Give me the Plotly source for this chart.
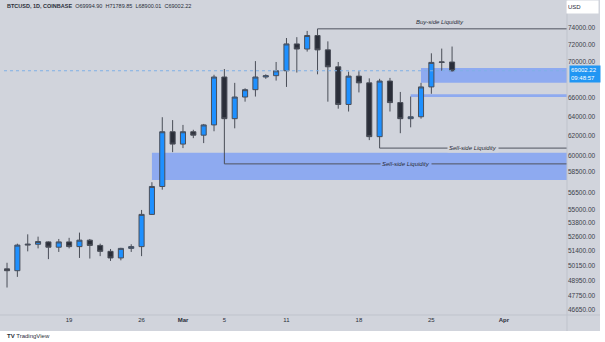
import numpy as np
import pandas as pd
import plotly.graph_objects as go

# Daily BTCUSD candles, Coinbase
dates = pd.date_range("2024-02-13", "2024-03-27", freq="D")
opens = [49900, 49750, 51880, 51950, 52150, 51700, 52150, 51750, 52300, 51850,
         51350, 50800, 51600, 51750, 54550, 57100, 62450, 61200, 62450, 62100,
         63150, 68300, 63800, 66100, 66900, 68300, 68450, 69000, 72100, 71500,
         73100, 71400, 69450, 65300, 68400, 67650, 61950, 67850, 65500, 63800,
         64000, 67200, 69950, 69994.90]
highs = [50400, 52000, 52800, 52600, 52200, 52400, 52500, 52950, 52400, 52000,
         51550, 51650, 51950, 54950, 57500, 63950, 63650, 63150, 62650, 63250,
         68550, 69200, 67650, 67050, 70100, 68600, 70000, 72800, 72900, 73650,
         73900, 72400, 70000, 68900, 68950, 68150, 68100, 68200, 66650, 66150,
         67650, 71000, 71550, 71789.85]
lows = [48400, 49250, 51350, 51600, 50700, 51300, 51600, 50800, 50750, 50950,
        50550, 50600, 51300, 50950, 54500, 56800, 60400, 60800, 61800, 61300,
        62500, 59250, 62800, 65600, 66150, 68100, 67900, 67200, 68800, 71200,
        68600, 65600, 64850, 64550, 66600, 61600, 60800, 64550, 62300, 62900,
        63800, 66450, 69000, 68900.01]
closes = [49750, 51880, 51950, 52180, 51700, 52150, 51750, 52300, 51850, 51350,
          50800, 51600, 51750, 54550, 57100, 62450, 61200, 62450, 62100, 63150,
          68300, 63800, 66100, 66900, 68300, 68450, 69000, 72100, 71500, 73100,
          71400, 69450, 65300, 68400, 67650, 61950, 67850, 65500, 63800, 64000,
          67200, 69950, 70000, 69002.22]

# Imbalance zones, each running to the right edge
zone_starts = ["2024-02-27", "2024-03-24", "2024-03-23"]
zone_lows = [57700, 67650, 66100]
zone_highs = [60350, 69300, 66400]

# Liquidity levels and where their labels sit
level_starts = ["2024-03-14", "2024-03-20", "2024-03-05"]
level_prices = [73900, 60800, 59250]
level_labels = ["Buy-side Liquidity", "Sell-side Liquidity", "Sell-side Liquidity"]
label_dates = ["2024-03-25 20:00", "2024-03-29 00:00", "2024-03-22 12:00"]

last_price = 69002.22
x_range = ["2024-02-12 17:00", "2024-04-07 02:30"]
y_low, y_high = 46272, 77470

price_ticks = [74000, 72000, 70000, 66000, 64000, 62000, 60000, 58500,
               56500, 55000, 53800, 52600, 51400, 50150, 48950, 47750, 46650]
date_ticks = ["2024-02-19", "2024-02-26", "2024-03-01", "2024-03-05",
              "2024-03-11", "2024-03-18", "2024-03-25", "2024-04-01"]
date_labels = ["19", "26", "<b>Mar</b>", "5", "11", "18", "25", "<b>Apr</b>"]

BG = "#d1d4dc"
TXT = "#2a2e39"
ZONE = "#8eaaf0"
W, H = 605, 342
ML, MR, MT, MB = 4, 38, 0, 27
PW, PH = W - ML - MR, H - MT - MB

fig = go.Figure()

# zones as bars so they sit beneath the candles
right_edge = pd.Timestamp(x_range[1])
z_start = pd.to_datetime(zone_starts)
z_span = right_edge - z_start
fig.add_trace(go.Bar(
    x=z_start + z_span / 2,
    width=[s.total_seconds() * 1000 for s in z_span],
    base=zone_lows,
    y=[h - l for h, l in zip(zone_highs, zone_lows)],
    marker=dict(color=ZONE, line=dict(width=0)),
    hoverinfo="skip", showlegend=False))

fig.add_trace(go.Candlestick(
    x=dates, open=opens, high=highs, low=lows, close=closes,
    increasing=dict(fillcolor="#1e90ff", line=dict(color="#4a4e58", width=1)),
    decreasing=dict(fillcolor="#2a2e39", line=dict(color="#4a4e58", width=1)),
    whiskerwidth=0, showlegend=False))

fig.add_trace(go.Scatter(
    x=x_range, y=[last_price, last_price], mode="lines",
    line=dict(color="#7fb0e6", width=1, dash="dot"),
    hoverinfo="skip", showlegend=False))

for start, price in zip(level_starts, level_prices):
    fig.add_trace(go.Scatter(
        x=[start, x_range[1]], y=[price, price], mode="lines",
        line=dict(color="#50535e", width=1), hoverinfo="skip", showlegend=False))

annotations = []
label_bg = ["rgba(0,0,0,0)", BG, ZONE]
label_shift = [7, 0, 0]
for ldate, price, label, bg, sh in zip(label_dates, level_prices, level_labels,
                                       label_bg, label_shift):
    annotations.append(dict(
        x=ldate, y=np.log10(price), xref="x", yref="y", text=f"<i>{label}</i>",
        showarrow=False, font=dict(size=6, color=TXT, family="Liberation Sans"),
        bgcolor=bg, borderpad=1, yshift=sh))

annotations.append(dict(
    x=1 + 1.5 / PW, y=np.log10(last_price), xref="paper", yref="y",
    xanchor="left", yanchor="middle", yshift=-3, align="left",
    text=f"{last_price:.2f}<br>09:48:57", showarrow=False, width=28,
    bgcolor="#2196f3", borderpad=1,
    font=dict(size=6, color="white", family="Liberation Sans")))

annotations.append(dict(
    x=1 - 1 / PW, y=1, xref="paper", yref="paper", xanchor="left",
    yanchor="top", text="USD", showarrow=False, width=29, height=10,
    align="left", bgcolor="white", borderpad=1,
    font=dict(size=6, color=TXT, family="Liberation Sans")))

annotations.append(dict(
    x=1 / PW, y=1, xref="paper", yref="paper", xanchor="left", yanchor="top",
    yshift=-1, showarrow=False,
    text="<b>BTCUSD, 1D, COINBASE</b>  O69994.90  H71789.85  L68900.01  C69002.22",
    font=dict(size=5.5, color=TXT, family="Liberation Sans")))

annotations.append(dict(
    x=1 / PW, y=-21 / PH, xref="paper", yref="paper", xanchor="left",
    yanchor="middle", showarrow=False, text="<b>TV</b> TradingView",
    font=dict(size=6, color=TXT, family="Liberation Sans")))

shapes = [
    dict(type="rect", xref="paper", yref="paper", x0=-4 / PW, x1=596 / PW,
         y0=-16 / PH, y1=1, fillcolor=BG, line=dict(width=0), layer="below"),
    dict(type="line", xref="paper", yref="paper", x0=-4 / PW, x1=596 / PW,
         y0=0, y1=0, line=dict(color="#bfc3cc", width=1)),
    dict(type="line", xref="paper", yref="paper", x0=1, x1=1,
         y0=-16 / PH, y1=1, line=dict(color="#bfc3cc", width=1)),
]

fig.update_layout(
    width=W, height=H, margin=dict(l=ML, r=MR, t=MT, b=MB),
    paper_bgcolor="white", plot_bgcolor=BG, barmode="overlay",
    annotations=annotations, shapes=shapes, showlegend=False,
    xaxis=dict(type="date", range=x_range, tickvals=date_ticks,
               ticktext=date_labels, showgrid=False, zeroline=False,
               showline=False, ticks="", rangeslider=dict(visible=False),
               tickfont=dict(size=6, color=TXT, family="Liberation Sans")),
    yaxis=dict(type="log", side="right",
               range=[np.log10(y_low), np.log10(y_high)],
               tickvals=price_ticks, ticktext=[f"{v:.2f}" for v in price_ticks],
               showgrid=False, zeroline=False, showline=False, ticks="",
               tickfont=dict(size=6.5, color="#3c4049", family="Liberation Sans")),
)

fig.write_html("out.html")
